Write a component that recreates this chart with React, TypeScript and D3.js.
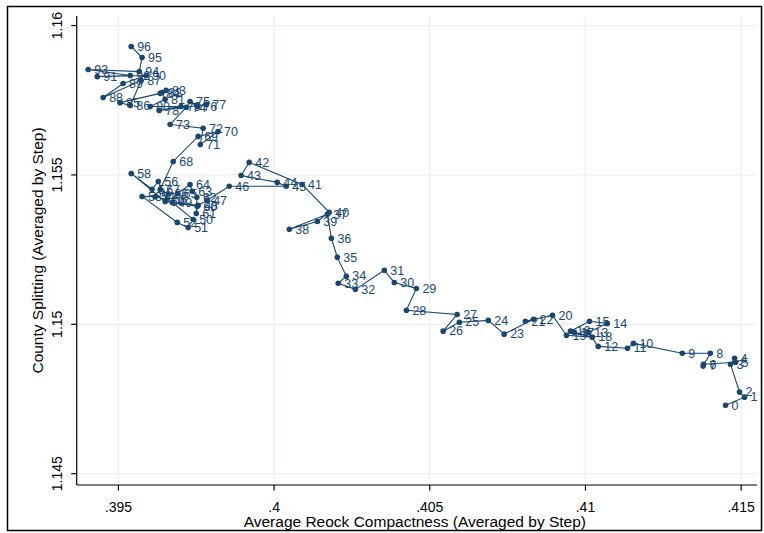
import React from "react";
import * as d3 from "d3";

// Average Reock compactness by step (x) and county splitting by step (y)
const reock = [
  0.41450, 0.41511, 0.41495, 0.41466, 0.41479, 0.41482, 0.41379, 0.41378, 0.41401, 0.41311,
  0.41154, 0.41135, 0.41041, 0.41009, 0.41070, 0.41013, 0.40952, 0.40964, 0.41022, 0.40939,
  0.40894, 0.40807, 0.40833, 0.40739, 0.40688, 0.40595, 0.40543, 0.40588, 0.40425, 0.40457,
  0.40386, 0.40354, 0.40261, 0.40206, 0.40232, 0.40203, 0.40184, 0.40171, 0.40049, 0.40139,
  0.40177, 0.40090, 0.39920, 0.39894, 0.40010, 0.40039, 0.39856, 0.39785, 0.39756, 0.39673,
  0.39740, 0.39724, 0.39689, 0.39576, 0.39618, 0.39656, 0.39628, 0.39608, 0.39541, 0.39650,
  0.39753, 0.39750, 0.39752, 0.39737, 0.39730, 0.39690, 0.39660, 0.39634, 0.39676, 0.39756,
  0.39820, 0.39763, 0.39772, 0.39666, 0.39718, 0.39730, 0.39753, 0.39782, 0.39631, 0.39701,
  0.39602, 0.39650, 0.39640, 0.39653, 0.39634, 0.39505, 0.39538, 0.39573, 0.39451, 0.39515,
  0.39589, 0.39432, 0.39538, 0.39403, 0.39567, 0.39576, 0.39541,
];
const countySplit = [
  1.14729, 1.14756, 1.14773, 1.14866, 1.14886, 1.14873, 1.14866, 1.14860, 1.14903, 1.14903,
  1.14936, 1.14920, 1.14926, 1.14973, 1.15003, 1.15010, 1.14977, 1.14973, 1.14957, 1.14963,
  1.15030, 1.15010, 1.15017, 1.14967, 1.15013, 1.15007, 1.14977, 1.15033, 1.15047, 1.15120,
  1.15140, 1.15181, 1.15117, 1.15137, 1.15161, 1.15224, 1.15288, 1.15368, 1.15318, 1.15344,
  1.15375, 1.15468, 1.15542, 1.15498, 1.15475, 1.15462, 1.15462, 1.15415, 1.15398, 1.15408,
  1.15351, 1.15324, 1.15341, 1.15428, 1.15427, 1.15418, 1.15478, 1.15452, 1.15505, 1.15411,
  1.15395, 1.15371, 1.15425, 1.15445, 1.15468, 1.15438, 1.15437, 1.15451, 1.15545, 1.15629,
  1.15645, 1.15602, 1.15656, 1.15669, 1.15726, 1.15746, 1.15729, 1.15736, 1.15716, 1.15729,
  1.15729, 1.15753, 1.15776, 1.15783, 1.15773, 1.15742, 1.15732, 1.15816, 1.15759, 1.15806,
  1.15833, 1.15829, 1.15833, 1.15853, 1.15846, 1.15893, 1.15930,
];
const xTicks = [0.395, 0.4, 0.405, 0.41, 0.415];
const xTickLabels = [".395", ".4", ".405", ".41", ".415"];
const yTicks = [1.145, 1.15, 1.155, 1.16];
const yTickLabels = ["1.145", "1.15", "1.155", "1.16"];
const xTitle = "Average Reock Compactness (Averaged by Step)";
const yTitle = "County Splitting (Averaged by Step)";

const W = 764;
const H = 533;
const left = 76.7;
const right = 757;
const top = 16;
const bottom = 485;
const navy = "#1a476f";
const grid = "#eaf2f3";
const font = "'Liberation Sans', Arial, Helvetica, sans-serif";

export default function App() {
  const x = d3.scaleLinear().domain([0.39366, 0.41551]).range([left, right]);
  const y = d3.scaleLinear().domain([1.14462, 1.16032]).range([bottom, top]);
  const pts = reock.map((v, i) => ({ step: i, x: v, y: countySplit[i] }));
  const line = d3
    .line<{ x: number; y: number }>()
    .x((d) => x(d.x))
    .y((d) => y(d.y));

  return (
    <svg
      width={W}
      height={H}
      style={{ position: "absolute", left: 0, top: 0, background: "#fff" }}
      fontFamily={font}
    >
      <rect x={0} y={0} width={W} height={H} fill="#fff" />
      <rect x={7.5} y={6.5} width={754} height={524} fill="none" stroke="#000" strokeWidth={1.5} />
      {/* gridlines */}
      {xTicks.map((t) => (
        <line key={"gx" + t} x1={x(t)} x2={x(t)} y1={top} y2={bottom} stroke={grid} strokeWidth={1.2} />
      ))}
      {yTicks.map((t) => (
        <line key={"gy" + t} x1={left} x2={right} y1={y(t)} y2={y(t)} stroke={grid} strokeWidth={1.2} />
      ))}
      {/* axes */}
      <line x1={left} x2={left} y1={top} y2={bottom} stroke="#000" strokeWidth={1.2} />
      <line x1={left} x2={right} y1={bottom} y2={bottom} stroke="#000" strokeWidth={1.2} />
      {xTicks.map((t, i) => (
        <g key={"xt" + t}>
          <line x1={x(t)} x2={x(t)} y1={bottom} y2={bottom + 5.5} stroke="#000" strokeWidth={1.2} />
          <text x={x(t)} y={511.5} fontSize={14} textAnchor="middle" fill="#000">
            {xTickLabels[i]}
          </text>
        </g>
      ))}
      {yTicks.map((t, i) => (
        <g key={"yt" + t}>
          <line x1={left - 5.5} x2={left} y1={y(t)} y2={y(t)} stroke="#000" strokeWidth={1.2} />
          <text
            transform={`translate(61.5,${y(t)}) rotate(-90)`}
            fontSize={14}
            textAnchor="middle"
            fill="#000"
          >
            {yTickLabels[i]}
          </text>
        </g>
      ))}
      <text x={(left + right) / 2 - 2} y={527} fontSize={15.5} textAnchor="middle" fill="#000">
        {xTitle}
      </text>
      <text
        transform={`translate(43,${(top + bottom) / 2}) rotate(-90)`}
        fontSize={15.5}
        textAnchor="middle"
        fill="#000"
      >
        {yTitle}
      </text>
      {/* series */}
      <path d={line(pts) || ""} fill="none" stroke={navy} strokeWidth={1.1} />
      {pts.map((p) => (
        <circle key={"c" + p.step} cx={x(p.x)} cy={y(p.y)} r={2.8} fill={navy} />
      ))}
      {pts.map((p) => (
        <text
          key={"l" + p.step}
          x={x(p.x) + 6}
          y={y(p.y) + 4.3}
          fontSize={12.5}
          fill={navy}
        >
          {p.step}
        </text>
      ))}
    </svg>
  );
}
